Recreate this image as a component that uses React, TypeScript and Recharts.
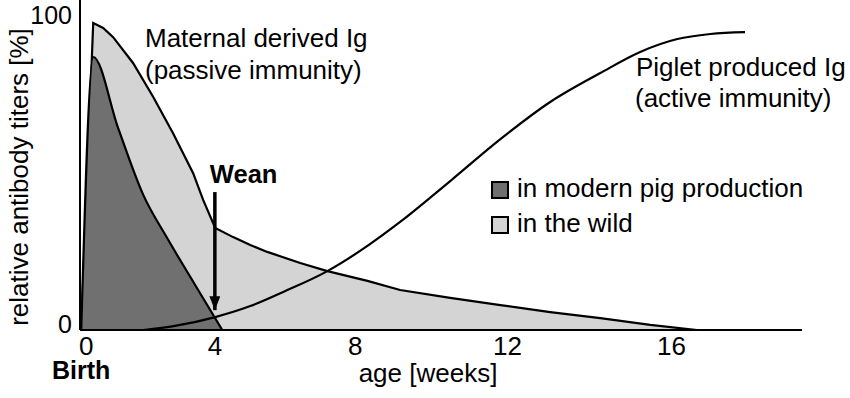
import React from 'react';
import { ComposedChart, Area, Line, XAxis, YAxis, Legend, ReferenceLine } from 'recharts';

const FONT = '"Liberation Sans", Arial, Helvetica, sans-serif';

// ---- axes ----
const xTicks = [0, 4, 8, 12, 16];
const yTicks = [0, 100];
const xDomain = [-0.2, 19];
const yDomain = [0, 104.8];

// ---- maternal derived Ig, in the wild (light) ----
const wildAge = [-0.16, 0.23, 0.55, 0.87, 1.5, 2.13, 2.74, 3.35, 3.65, 4.01, 4.54, 5.04, 5.53, 6.47, 7.23, 8.33, 9.21, 10.53, 11.82, 13.07, 14.3, 15.5, 16.6];
const wildTiter = [0, 97.5, 95.9, 93, 84.8, 74, 62.5, 49.8, 41.3, 32.4, 29.5, 27, 24.8, 21.3, 18.7, 15.6, 12.7, 10.2, 7.9, 5.7, 3.8, 1.6, 0];

// ---- maternal derived Ig, in modern pig production (dark) ----
const modernAge = [-0.16, 0.23, 1.03, 1.82, 2.56, 3.41, 4.22];
const modernTiter = [0, 86.7, 64.1, 42.9, 29.2, 14.3, 0];

// ---- piglet produced Ig ----
const pigletAge = [1.82, 2.8, 4.01, 5.04, 5.99, 7.23, 8.33, 9.21, 10.53, 11.82, 13.07, 14.3, 15.26, 16.14, 16.91, 17.71];
const pigletTiter = [0, 1.3, 4.1, 7.6, 12.1, 18.7, 26.7, 34.3, 47.3, 60.6, 72.4, 81.6, 88.3, 92.4, 94.0, 94.6];

// ---- wean marker ----
const weanAge = 4;
const weanArrowTop = 43.8;
const weanArrowTip = 6.3;

const legendOrder = ['in modern pig production', 'in the wild'];
const fills: Record<string, string> = {
  'in modern pig production': '#707070',
  'in the wild': '#d4d4d4',
};

const zip = (ages: number[], titers: number[]) => ages.map((age, i) => ({ age, titer: titers[i] }));
const wildData = zip(wildAge, wildTiter);
const modernData = zip(modernAge, modernTiter);
const pigletData = zip(pigletAge, pigletTiter);

// the printed age axis is slightly stretched towards the right
const AXIS_WARP = 0.23;
function warpedScale(): any {
  let dom: number[] = [0, 1];
  let rng: number[] = [0, 1];
  const warp = (t: number) => (t + AXIS_WARP * t * t) / (1 + AXIS_WARP);
  const unwarp = (g: number) => {
    const a = AXIS_WARP;
    const c = g * (1 + a);
    return (-1 + Math.sqrt(Math.max(0, 1 + 4 * a * c))) / (2 * a);
  };
  const s: any = (v: any) => {
    const t = (Number(v) - dom[0]) / (dom[1] - dom[0]);
    return rng[0] + warp(t) * (rng[1] - rng[0]);
  };
  s.domain = (d?: any) => {
    if (d === undefined) return dom.slice();
    dom = [Number(d[0]), Number(d[d.length - 1])];
    return s;
  };
  s.range = (r?: any) => {
    if (r === undefined) return rng.slice();
    rng = [Number(r[0]), Number(r[r.length - 1])];
    return s;
  };
  s.invert = (p: number) => dom[0] + unwarp((p - rng[0]) / (rng[1] - rng[0])) * (dom[1] - dom[0]);
  s.copy = () => warpedScale().domain(dom).range(rng);
  s.ticks = () => xTicks.slice();
  s.tickFormat = () => (v: any) => String(v);
  s.clamp = () => s;
  s.nice = () => s;
  return s;
}

const XTick = (props: any) => {
  const { x, y, payload } = props;
  return (
    <g>
      <text x={x} y={y} dy={17} textAnchor="middle" fontSize={26} fontFamily={FONT} fill="#000">
        {payload.value}
      </text>
      {payload.value === 0 && (
        <text x={x - 5} y={y} dy={41} textAnchor="middle" fontSize={25} fontWeight="bold" fontFamily={FONT} fill="#000">
          Birth
        </text>
      )}
    </g>
  );
};

const YTick = (props: any) => {
  const { x, y, payload } = props;
  return (
    <text x={x} y={y} dy={payload.value === 0 ? 3 : 8.5} textAnchor="end" fontSize={25} fontFamily={FONT} fill="#000">
      {payload.value}
    </text>
  );
};

const LegendBox = (props: any) => {
  const items = (props.payload || [])
    .filter((p: any) => p.type !== 'none' && legendOrder.includes(p.value))
    .sort((a: any, b: any) => legendOrder.indexOf(a.value) - legendOrder.indexOf(b.value));
  return (
    <svg width={340} height={72} style={{ display: 'block' }}>
      {items.map((it: any, i: number) => (
        <g key={it.value}>
          <rect x={4} y={12 + i * 35} width={16} height={16} fill={fills[it.value]} stroke="#000" strokeWidth={2} />
          <text x={29} y={27 + i * 35} fontSize={26} fontFamily={FONT} fill="#000">
            {it.value}
          </text>
        </g>
      ))}
    </svg>
  );
};

const WeanLabel = (props: any) => {
  const vb = props.viewBox || {};
  return (
    <text x={(vb.x ?? 0) - 5} y={(vb.y ?? 0) - 9} fontSize={25.5} fontWeight="bold" fontFamily={FONT} fill="#000">
      Wean
    </text>
  );
};

export default function App() {
  return (
    <div style={{ position: 'absolute', left: 0, top: 0, width: 850, height: 398, background: '#fff' }}>
      <ComposedChart width={850} height={398} margin={{ top: 0, right: 48, bottom: 0, left: 0 }}>
        <defs>
          <marker id="arrowHead" markerUnits="userSpaceOnUse" markerWidth={14} markerHeight={11} refX={14} refY={5.5} orient="auto">
            <path d="M0,0 L14,5.5 L0,11 z" fill="#000" />
          </marker>
        </defs>
        <XAxis
          dataKey="age"
          type="number"
          domain={xDomain}
          allowDataOverflow
          scale={warpedScale()}
          ticks={xTicks}
          interval={0}
          tickLine={false}
          tick={<XTick />}
          height={68}
          axisLine={{ stroke: '#000', strokeWidth: 2 }}
        />
        <YAxis
          type="number"
          domain={yDomain}
          allowDataOverflow
          ticks={yTicks}
          interval={0}
          tickLine={false}
          tick={<YTick />}
          width={80}
          axisLine={{ stroke: '#000', strokeWidth: 2 }}
        />
        <Area
          data={wildData}
          dataKey="titer"
          name="in the wild"
          type="linear"
          fill={fills['in the wild']}
          fillOpacity={1}
          stroke="#000"
          strokeWidth={2.2}
          isAnimationActive={false}
          dot={false}
          activeDot={false}
        />
        <Area
          data={modernData}
          dataKey="titer"
          name="in modern pig production"
          type="monotone"
          fill={fills['in modern pig production']}
          fillOpacity={1}
          stroke="#000"
          strokeWidth={2.2}
          isAnimationActive={false}
          dot={false}
          activeDot={false}
        />
        <Line
          data={pigletData}
          dataKey="titer"
          name="Piglet produced Ig"
          type="monotone"
          stroke="#000"
          strokeWidth={2.2}
          dot={false}
          activeDot={false}
          legendType="none"
          isAnimationActive={false}
        />
        <ReferenceLine
          segment={[
            { x: weanAge, y: weanArrowTop },
            { x: weanAge, y: weanArrowTip },
          ]}
          stroke="#000"
          strokeWidth={3.5}
          markerEnd="url(#arrowHead)"
          label={<WeanLabel />}
        />
        <Legend
          verticalAlign="middle"
          align="center"
          layout="horizontal"
          content={<LegendBox />}
          wrapperStyle={{ position: 'absolute', left: 488, top: 170, width: 340, height: 72 }}
        />
        <text transform="translate(28,177) rotate(-90)" textAnchor="middle" fontSize={26} fontFamily={FONT} fill="#000">
          relative antibody titers [%]
        </text>
        <text x={428} y={382} textAnchor="middle" fontSize={26} fontFamily={FONT} fill="#000">
          age [weeks]
        </text>
        <text x={145} y={47} fontSize={26} fontFamily={FONT} fill="#000">
          Maternal derived Ig
        </text>
        <text x={145} y={79} fontSize={26} fontFamily={FONT} fill="#000">
          (passive immunity)
        </text>
        <text x={636} y={76} fontSize={26} fontFamily={FONT} fill="#000">
          Piglet produced Ig
        </text>
        <text x={635} y={107} fontSize={26} fontFamily={FONT} fill="#000">
          (active immunity)
        </text>
      </ComposedChart>
    </div>
  );
}
